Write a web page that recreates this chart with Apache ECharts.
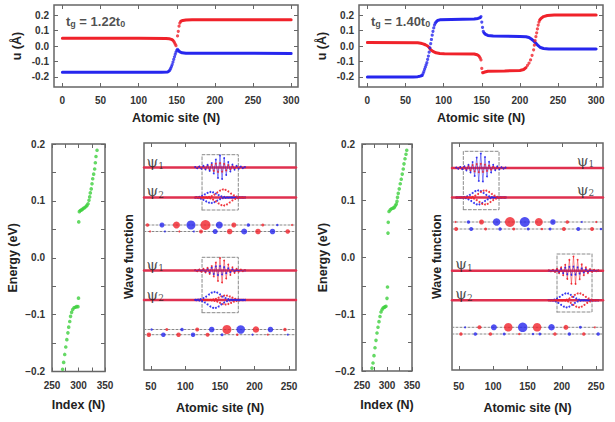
<!DOCTYPE html>
<html><head><meta charset="utf-8">
<script src="https://cdn.jsdelivr.net/npm/echarts@6/dist/echarts.min.js"></script>
<style>html,body{margin:0;padding:0;background:#fff}#c{width:615px;height:422px}</style>
</head><body><div id="c"></div>
<script>
// ================= DATA =================
// tick values / labels
const siteTicks=[0,50,100,150,200,250,300];
const uTicks=[-0.2,-0.1,0,0.1,0.2];
const indexTicks=[250,275,300,325,350];
const indexLabels=[250,300,350];
const energyTicks=[-0.2,-0.15,-0.1,-0.05,0,0.05,0.1,0.15,0.2];
const energyLabels=[-0.2,-0.1,0,0.1,0.2];
const waveTicks=[50,100,150,200,250];
const titleLeft='1.22', titleRight='1.40';

// Top-left panel (t_g = 1.22 t0): displacement u (Å) vs atomic site
const tlRedLine1=[[0,0.05],[100,0.05],[136,0.049],[140,0.047],[143,0.043],[145,0.037]];
const tlRedDots=[[146,0.03],[147,0.022],[148,0.012],[149,0.002],[151,0.065],[152,0.095],[153,0.128],[154,0.148],[155,0.158]];
const tlRedLine2=[[156,0.162],[158,0.165],[162,0.168],[170,0.17],[300,0.17]];
const tlBlueLine1=[[0,-0.17],[130,-0.17],[138,-0.168],[140,-0.162]];
const tlBlueDots=[[141,-0.155],[142,-0.145],[143,-0.133],[144,-0.12],[145,-0.104],[146,-0.087],[147,-0.07],[148,-0.054],[149,-0.04],[150,-0.028],[151,-0.022]];
const tlBlueLine2=[[152,-0.028],[154,-0.038],[157,-0.044],[162,-0.047],[300,-0.048]];

// Top-right panel (t_g = 1.40 t0)
const trRedLine1=[[0,0.022],[66,0.021],[70,0.018],[73,0.014],[76,0.008],[79,0],[81,-0.01],[83,-0.024],[86,-0.035],[90,-0.044],[95,-0.048],[101,-0.05],[140,-0.052],[144,-0.057],[146,-0.063]];
const trRedDots=[[147,-0.07],[148,-0.078],[149,-0.09],[150,-0.145],[151,-0.172]];
const trRedLine2=[[152,-0.172],[154,-0.168],[158,-0.163],[180,-0.161],[200,-0.158],[205,-0.152],[208,-0.14]];
const trRedDots2=[[210,-0.125],[212,-0.11],[214,-0.09],[216,-0.06],[218,-0.025],[219,0.005],[220,0.035],[221,0.06],[222,0.085],[223,0.11],[224,0.135],[225,0.155]];
const trRedLine3=[[226,0.168],[228,0.18],[231,0.19],[236,0.197],[245,0.2],[300,0.2]];
const trBlueLine1=[[0,-0.2],[60,-0.2],[66,-0.198],[69,-0.195],[71,-0.192]];
const trBlueDots=[[72,-0.19],[73,-0.178],[74,-0.165],[75,-0.151],[76,-0.137],[77,-0.122],[78,-0.108],[79,-0.087],[80,-0.065],[81,-0.04],[82,-0.012],[83,0.015],[84,0.042],[85,0.07],[86,0.095],[87,0.117],[88,0.135],[89,0.147],[90,0.155]];
const trBlueLine2=[[91,0.16],[92,0.165],[95,0.169],[110,0.172],[140,0.174],[145,0.178],[148,0.184]];
const trBlueDots2=[[149,0.19],[150,0.155],[151,0.12],[152,0.095]];
const trBlueLine3=[[153,0.085],[155,0.075],[158,0.068],[165,0.064],[200,0.062],[208,0.06],[212,0.055],[215,0.045],[218,0.033],[221,0.018],[224,0.002],[227,-0.01],[231,-0.016],[238,-0.019],[300,-0.02]];

// Energy spectra (index, eV)
const energyLeft=[[270,-0.196],[272,-0.184],[274,-0.17],[276,-0.157],[278,-0.144],[280,-0.132],[281.5,-0.122],[283.5,-0.112],[285,-0.103],[287,-0.096],[289,-0.091],[291.5,-0.088],[294,-0.087],[296.5,-0.086],[299,-0.086],[300,-0.071],[300.5,0.063],[301.6,0.081],[303.5,0.083],[305.4,0.084],[307.2,0.085],[309.5,0.087],[311.5,0.088],[314,0.09],[316,0.092],[318,0.095],[319.8,0.101],[321.1,0.107],[322.3,0.114],[324,0.121],[325.5,0.13],[326.8,0.139],[328.6,0.147],[330.5,0.156],[331.8,0.167],[333,0.178],[335,0.189]];
const energyRight=[[270,-0.195],[272,-0.186],[274,-0.173],[276,-0.159],[278,-0.146],[280,-0.133],[282,-0.123],[284,-0.113],[286,-0.104],[288,-0.096],[290,-0.092],[292,-0.089],[294,-0.088],[296,-0.087],[298,-0.086],[300,-0.072],[301,-0.052],[302,0.043],[302.5,0.062],[304,0.081],[306.5,0.084],[309,0.086],[312,0.087],[314.5,0.088],[316.5,0.091],[318.5,0.094],[320,0.099],[321,0.106],[322.5,0.113],[324.5,0.121],[326.5,0.13],[328.5,0.138],[330.5,0.147],[332.5,0.156],[334,0.165],[336,0.174],[338,0.182],[339.5,0.189]];

// Wave-function packets: site offsets from packet centre, and amplitudes
const off3=[-36,-33,-30,-27,-24,-21,-18,-15,-12,-9,-6,-3,0,3,6,9,12,15,18,21,24,27,30,33,36];
const off2=[-36,-34,-32,-30,-28,-26,-24,-22,-20,-18,-16,-14,-12,-10,-8,-6,-4,-2,0,2,4,6,8,10,12,14,16,18,20,22,24,26,28,30,32,34,36];
const centreLeft=150, centreRightTop=82, centreRightBottom=217;
const wlT1Blue=[0.5,-0.7,0.9,-1.2,1.6,-2,2.6,-3.4,4.5,-6,8,-10.5,12,-11.5,9.5,-7.5,5.5,-4,3,-2.2,1.6,-1.2,0.9,-0.6,0.4];
const wlT1Red=[0.3,-0.4,0.6,-0.8,1,-1.3,1.7,-2.2,2.8,-3.4,4,-4.5,4.5,-4.2,3.6,-3,2.4,-1.8,1.3,-1,0.7,-0.5,0.4,-0.3,0.2];
const wlT2Red=[0,0,0,0,0,0,0.1,-0.1,0.2,-0.4,0.6,-0.9,1.4,-2.1,2.9,-3.9,5,-6,6.9,-7.6,8,-8,7.6,-6.9,6,-5,3.9,-2.9,2.1,-1.4,0.9,-0.6,0.4,-0.2,0.1,-0.1,0];
const wlT2Blue=[-0.1,0.3,-0.5,0.7,-1.2,1.7,-2.4,3.1,-3.9,4.6,-5.2,5.5,-5.5,5.2,-4.6,3.9,-3.1,2.4,-1.7,1.2,-0.7,0.5,-0.3,0.1,-0.1,0,0,0,0,0,0,0,0,0,0,0,0];
const wlB1Red=[0.5,-0.7,0.9,-1.2,1.6,-2,2.6,-3.4,4.5,-6,8,-10.5,12.5,-12,10,-8,6,-4.5,3.2,-2.4,1.7,-1.2,0.9,-0.6,0.4];
const wlB1Blue=[0.3,-0.4,0.6,-0.8,1,-1.4,1.8,-2.4,3,-3.6,4.2,-4.6,4.5,-4,3.4,-2.8,2.2,-1.6,1.2,-0.9,0.6,-0.4,0.3,-0.2,0.1];
const wlB2Blue=[0.1,-0.2,0.3,-0.5,0.8,-1.2,1.8,-2.5,3.4,-4.4,5.5,-6.5,7.3,-7.8,8,-7.8,7.3,-6.5,5.5,-4.4,3.4,-2.5,1.8,-1.2,0.8,-0.5,0.3,-0.2,0.1,0,0,0,0,0,0,0,0];
const wlB2Red=[0,0,0,0,0,0,0,0,0,0,-0.1,0.2,-0.3,0.5,-0.8,1.2,-1.7,2.3,-2.9,3.5,-4,4.4,-4.5,4.4,-4,3.5,-2.9,2.3,-1.7,1.2,-0.8,0.5,-0.3,0.2,-0.1,0,0];
const wrT1Blue=[0.5,-0.7,1,-1.3,1.8,-2.4,3.2,-4.4,6,-8,10.5,-13,14.5,-13.5,11,-8.5,6.2,-4.5,3.2,-2.3,1.6,-1.2,0.8,-0.6,0.4];
const wrT1Red=[0.3,-0.4,0.6,-0.8,1.1,-1.5,2,-2.5,3,-3.5,4,-4.3,4.3,-4,3.5,-3,2.4,-1.8,1.3,-1,0.7,-0.5,0.4,-0.3,0.2];
const wrT2Blue=[0,0,0,-0.1,0.1,-0.2,0.4,-0.7,1.2,-1.8,2.6,-3.5,4.5,-5.5,6.3,-6.8,7,-6.8,6.3,-5.5,4.5,-3.5,2.6,-1.8,1.2,-0.7,0.4,-0.2,0.1,-0.1,0,0,0,0,0,0,0];
const wrT2Red=[0,0,0,0,0,0,0,0,0.1,-0.1,0.2,-0.4,0.7,-1.2,1.8,-2.6,3.5,-4.5,5.5,-6.3,6.8,-7,6.8,-6.3,5.5,-4.5,3.5,-2.6,1.8,-1.2,0.7,-0.4,0.2,-0.1,0.1,0,0];
const wrB1Red=[0.4,-0.6,0.9,-1.3,1.8,-2.5,3.3,-4.5,6,-8.2,10.8,-13,14.2,-13.2,11,-8.6,6.3,-4.6,3.3,-2.4,1.7,-1.2,0.8,-0.6,0.4];
const wrB1Blue=[0.2,-0.4,0.5,-0.8,1.1,-1.5,2,-2.6,3.2,-3.7,4,-4.2,4.2,-3.9,3.4,-2.9,2.3,-1.8,1.3,-1,0.7,-0.5,0.3,-0.2,0.2];
const wrB2Blue=[0.1,-0.1,0.2,-0.4,0.7,-1.2,1.8,-2.6,3.5,-4.5,5.5,-6.3,6.8,-7,6.8,-6.3,5.5,-4.5,3.5,-2.6,1.8,-1.2,0.7,-0.4,0.2,-0.1,0.1,0,0,0,0,0,0,0,0,0,0];
const wrB2Red=[0,0,0,0,0,0,0,0,0,0,-0.1,0.2,-0.4,0.7,-1.2,1.8,-2.6,3.5,-4.5,5.5,-6.3,6.8,-7,6.8,-6.3,5.5,-4.5,3.5,-2.6,1.8,-1.2,0.7,-0.4,0.2,-0.1,0.1,0];

// Circle rows: [site, signed amplitude] (+ red, - blue)
const wlRow1=[[45,3.5],[66,-5],[87,7],[108,-9],[129,10],[149,-7],[170,5],[191,-3.5],[212,3],[233,-2.5],[254,2]];
const wlRow2=[[48.5,2],[70,-2],[91,2],[112,-2],[122.5,4],[143,-5],[164,5.5],[185,-6],[205,5.5],[226,-5.5],[248,4.5]];
const wlRow3=[[51,-2.5],[73,3],[95,-3.5],[117,4],[138,-5.5],[160,9],[180,-8.5],[202,6.5],[223,-5.5],[244,3.5]];
const wlRow4=[[47,4.5],[68,-4.5],[90,4.5],[111,-4.5],[132,4],[153,-3],[175,2.5],[197,-2],[219,2],[248,-2]];
const wrRow1=[[45,2],[64,-3.5],[83,5],[105,-7.5],[124.5,10],[146,-10],[166.5,8],[187,-5.5],[208,3.5],[229,-2],[250,2]];
const wrRow2=[[46,4],[68,-4],[89,3],[110,-3.5],[130,3],[151,-3],[171,2.5],[183,-3],[203,4],[224,-4],[244,4],[257,-2.5]];
const wrRow3=[[59,-2],[80,4],[101,-6],[122,8.5],[143,-9.5],[164,8.5],[185,-6.5],[206,5],[227,-3],[248,2]];
const wrRow4=[[53,3.5],[74,-3.5],[96,3.5],[116,-3],[138,2.5],[158,-2.5],[168,-3],[190,3.5],[211,-3.5],[232,3.5],[253,-3.5]];

// Dashed boxes around localized states: [site1, site2, level1, level2]
const boxesLeft=[[124,176.5,160,215.3],[124,176.5,57.3,112.7]];
const boxesRight=[[56.5,108.5,160.3,218.7],[193,244,58,116]];

// ================= LAYOUT / STYLE =================
const RED='#f0222a', BLUE='#2626ee', GREEN='#3fcf3f', LEVEL='#e0304f';
const LV={L:{p1T:202.5,p2T:172.5,r1:145,r2:138.5,p1B:99.5,p2B:70,r3:40.5,r4:35.3},
          R:{p1T:202,p2T:172.5,r1:148,r2:141,p1B:99.3,p2B:69.7,r3:42.7,r4:36}};
const FF='"Liberation Sans", Arial, Helvetica, sans-serif';
const SERIF='"DejaVu Serif", "Liberation Serif", serif';
const fontL={fontFamily:FF,fontWeight:'bold',fontSize:10,color:'#333'};
const fontN={fontFamily:FF,fontWeight:'bold',fontSize:12.5,color:'#222'};
const tickStyle={color:'#666',width:1};

const grids=[],xAxes=[],yAxes=[],series=[];
function panel(g,x,y){
  const gi=grids.length;
  grids.push(Object.assign({show:true,borderColor:'#666',borderWidth:1.5,backgroundColor:'transparent'},g));
  const xi=xAxes.length, yi=yAxes.length;
  const noLine={show:false,onZero:false};
  xAxes.push({type:'value',gridIndex:gi,position:'bottom',min:x.min,max:x.max,
    axisLine:noLine,splitLine:{show:false},
    axisTick:{show:true,inside:true,length:4,customValues:x.ticks,lineStyle:tickStyle},
    axisLabel:Object.assign({show:true,customValues:x.labels,margin:x.margin,formatter:x.fmt},fontL),
    name:x.name,nameLocation:'middle',nameGap:x.gap,nameTextStyle:fontN});
  xAxes.push({type:'value',gridIndex:gi,position:'top',min:x.min,max:x.max,
    axisLine:noLine,splitLine:{show:false},
    axisTick:{show:true,inside:true,length:4,customValues:x.ticks,lineStyle:tickStyle},axisLabel:{show:false}});
  yAxes.push({type:'value',gridIndex:gi,position:'left',min:y.min,max:y.max,
    axisLine:noLine,splitLine:{show:false},
    axisTick:{show:!!y.ticks,inside:true,length:4,customValues:y.ticks||[],lineStyle:tickStyle},
    axisLabel:Object.assign({show:!!y.labels,customValues:y.labels||[],margin:y.margin,formatter:y.fmt},fontL),
    name:y.name,nameLocation:'middle',nameGap:y.gap,nameTextStyle:fontN});
  yAxes.push({type:'value',gridIndex:gi,position:'right',min:y.min,max:y.max,
    axisLine:noLine,splitLine:{show:false},
    axisTick:{show:!!y.ticks,inside:true,length:4,customValues:y.ticks||[],lineStyle:tickStyle},axisLabel:{show:false}});
  return {xi,yi};
}
const fmtU=v=>Number(v).toFixed(1);
const fmtE=v=>(v<-1e-9?'\u2212':'')+Math.abs(v).toFixed(1);
const fmtI=v=>String(Math.round(v));

const uX={min:-11,max:309,ticks:siteTicks,labels:siteTicks,fmt:fmtI,margin:8,name:'Atomic site (N)',gap:24};
const uY={min:-0.265,max:0.265,ticks:uTicks,labels:uTicks,fmt:fmtU,margin:5,name:'u (\u00C5)',gap:31};
const eX={min:250,max:350,ticks:indexTicks,labels:indexLabels,fmt:fmtI,margin:9,name:'Index (N)',gap:27};
const eY={min:-0.2,max:0.2,ticks:energyTicks,labels:energyLabels,fmt:fmtE,margin:7,name:'Energy (eV)',gap:33};
const wX={min:40,max:260,ticks:waveTicks,labels:waveTicks,fmt:fmtI,margin:11,name:'Atomic site (N)',gap:31};
const wY={min:0,max:227,name:'Wave function',gap:9};

const TL=panel({left:54,top:5,width:244,height:82},uX,uY);
const TR=panel({left:359,top:5,width:244,height:82},uX,uY);
const EL=panel({left:52,top:144,width:53,height:227.5},eX,eY);
const WL=panel({left:144,top:143,width:152,height:227},wX,wY);
const ER=panel({left:362,top:144,width:50,height:227},eX,eY);
const WR=panel({left:452,top:143,width:151,height:227},wX,wY);

function line(p,data,color,width,z,type){
  series.push({type:'line',xAxisIndex:p.xi,yAxisIndex:p.yi,data,showSymbol:false,symbol:'none',silent:true,
    lineStyle:{color,width,type:type||'solid',cap:'round'},z:z||3});
}
function dots(p,data,color,size,z){
  series.push({type:'scatter',xAxisIndex:p.xi,yAxisIndex:p.yi,data,symbolSize:size,silent:true,
    itemStyle:{color},z:z||4});
}
function text(p,x,y,fmt,rich,pos){
  series.push({type:'scatter',xAxisIndex:p.xi,yAxisIndex:p.yi,data:[[x,y]],symbolSize:1,silent:true,
    itemStyle:{color:'rgba(0,0,0,0)'},z:10,
    label:{show:true,position:pos,distance:0,formatter:fmt,rich}});
}

// ---- top panels ----
[[TL,[tlRedLine1,tlRedLine2],[tlRedDots],[tlBlueLine1,tlBlueLine2],[tlBlueDots]],
 [TR,[trRedLine1,trRedLine2,trRedLine3],[trRedDots,trRedDots2],[trBlueLine1,trBlueLine2,trBlueLine3],[trBlueDots,trBlueDots2]]
].forEach(([p,rl,rd,bl,bd])=>{
  rl.forEach(d=>line(p,d,RED,3,3)); rd.forEach(d=>dots(p,d,RED,3.2,4));
  bl.forEach(d=>line(p,d,BLUE,3,3)); bd.forEach(d=>dots(p,d,BLUE,3.2,4));
});
const titleRich={b:{fontFamily:FF,fontWeight:'bold',fontSize:13,color:'#222'},
                 s:{fontFamily:FF,fontWeight:'bold',fontSize:9,color:'#222',verticalAlign:'bottom',padding:[5,0,0,0]}};
text(TL,4,0.16,'{b|t}{s|g}{b| = '+titleLeft+'t}{s|0}',titleRich,'right');
text(TR,4,0.16,'{b|t}{s|g}{b| = '+titleRight+'t}{s|0}',titleRich,'right');

// ---- energy panels ----
dots(EL,energyLeft,GREEN,3.6,4);
dots(ER,energyRight,GREEN,3.6,4);

// ---- wave panels ----
const psiRich={p:{fontFamily:SERIF,fontSize:15,color:'#222'},
               s:{fontFamily:SERIF,fontSize:9,color:'#222',verticalAlign:'bottom',padding:[7,0,0,0]}};
function packet(p,centre,level,offs,vals,color,zig){
  const data=offs.map((o,i)=>[centre+o,level+vals[i]]);
  if(zig){
    series.push({type:'line',xAxisIndex:p.xi,yAxisIndex:p.yi,data,symbol:'circle',symbolSize:1.8,showSymbol:true,silent:true,
      lineStyle:{color,width:0.7,opacity:0.75},itemStyle:{color,opacity:0.9},z:5});
  } else {
    series.push({type:'scatter',xAxisIndex:p.xi,yAxisIndex:p.yi,data,symbolSize:2,silent:true,
      itemStyle:{color,opacity:0.9},z:5});
  }
}
function rowLine(p,level){ line(p,[[40,level],[260,level]],'#888',1,2,[2,2]); }
function levelLine(p,level){ line(p,[[40,level],[260,level]],LEVEL,2.5,3); }
function circles(p,level,row){
  series.push({type:'scatter',xAxisIndex:p.xi,yAxisIndex:p.yi,data:row.map(([s,a])=>[s,level,a]),silent:true,
    symbolSize:v=>Math.abs(v[2]),itemStyle:{color:q=>q.value[2]>0?RED:BLUE},z:6});
}
function box(p,b){ line(p,[[b[0],b[2]],[b[1],b[2]],[b[1],b[3]],[b[0],b[3]],[b[0],b[2]]],'#8a8a8a',1,2,[3,2]); }

// left wave panel
const L=LV.L;
[L.p1T,L.p2T,L.p1B,L.p2B].forEach(v=>levelLine(WL,v));
[L.r1,L.r2,L.r3,L.r4].forEach(v=>rowLine(WL,v));
boxesLeft.forEach(b=>box(WL,b));
packet(WL,centreLeft,L.p1T,off3,wlT1Red,RED,true);
packet(WL,centreLeft,L.p1T,off3,wlT1Blue,BLUE,true);
packet(WL,centreLeft,L.p2T,off2,wlT2Blue,BLUE,false);
packet(WL,centreLeft,L.p2T,off2,wlT2Red,RED,false);
packet(WL,centreLeft,L.p1B,off3,wlB1Blue,BLUE,true);
packet(WL,centreLeft,L.p1B,off3,wlB1Red,RED,true);
packet(WL,centreLeft,L.p2B,off2,wlB2Red,RED,false);
packet(WL,centreLeft,L.p2B,off2,wlB2Blue,BLUE,false);
circles(WL,L.r1,wlRow1); circles(WL,L.r2,wlRow2); circles(WL,L.r3,wlRow3); circles(WL,L.r4,wlRow4);
text(WL,43,L.p1T+5.5,'{p|\u03C8}{s|1}',psiRich,'right');
text(WL,43,L.p2T+6.5,'{p|\u03C8}{s|2}',psiRich,'right');
text(WL,43,L.p1B+6,'{p|\u03C8}{s|1}',psiRich,'right');
text(WL,43,L.p2B+5.5,'{p|\u03C8}{s|2}',psiRich,'right');

// right wave panel
const R=LV.R;
[R.p1T,R.p2T,R.p1B,R.p2B].forEach(v=>levelLine(WR,v));
[R.r1,R.r2,R.r3,R.r4].forEach(v=>rowLine(WR,v));
boxesRight.forEach(b=>box(WR,b));
packet(WR,centreRightTop,R.p1T,off3,wrT1Red,RED,true);
packet(WR,centreRightTop,R.p1T,off3,wrT1Blue,BLUE,true);
packet(WR,centreRightTop,R.p2T,off2,wrT2Blue,BLUE,false);
packet(WR,centreRightTop,R.p2T,off2,wrT2Red,RED,false);
packet(WR,centreRightBottom,R.p1B,off3,wrB1Blue,BLUE,true);
packet(WR,centreRightBottom,R.p1B,off3,wrB1Red,RED,true);
packet(WR,centreRightBottom,R.p2B,off2,wrB2Blue,BLUE,false);
packet(WR,centreRightBottom,R.p2B,off2,wrB2Red,RED,false);
circles(WR,R.r1,wrRow1); circles(WR,R.r2,wrRow2); circles(WR,R.r3,wrRow3); circles(WR,R.r4,wrRow4);
text(WR,248,R.p1T+7.5,'{p|\u03C8}{s|1}',psiRich,'left');
text(WR,248,R.p2T+8,'{p|\u03C8}{s|2}',psiRich,'left');
text(WR,44,R.p1B+6.5,'{p|\u03C8}{s|1}',psiRich,'right');
text(WR,44,R.p2B+6,'{p|\u03C8}{s|2}',psiRich,'right');

const chart=echarts.init(document.getElementById('c'),null,{renderer:'svg'});
chart.setOption({animation:false,backgroundColor:'#ffffff',textStyle:{fontFamily:FF},
  grid:grids,xAxis:xAxes,yAxis:yAxes,series});
</script></body></html>
